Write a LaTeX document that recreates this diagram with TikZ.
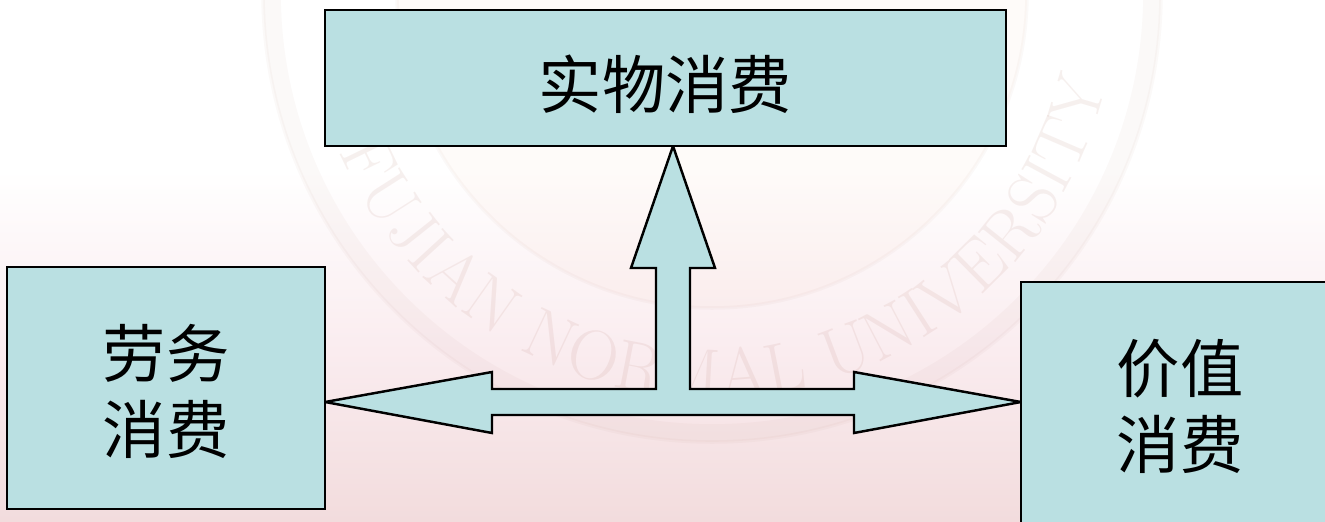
\documentclass[tikz,border=0pt]{standalone}
\usepackage{fontspec}
\usetikzlibrary{decorations.text}
\newfontfamily\cjk{Noto Sans CJK SC}
\definecolor{boxfill}{RGB}{186,224,226}
\definecolor{pagepink}{RGB}{242,220,221}
\definecolor{midpink}{RGB}{250,236,239}
\definecolor{sealred}{RGB}{150,70,50}
\newcommand{\nudge}[2]{\raisebox{-#1}[\height][\depth]{#2}}
\tikzset{
  kindbox/.style={draw=black, fill=boxfill, line width=0.7pt, inner sep=0pt, outer sep=0pt, align=center, font=\cjk\fontsize{18}{21.6}\selectfont},
  sealline/.style={draw=sealred, opacity=0.03},
}
\begin{document}
\begin{tikzpicture}[x=0.01cm, y=0.01cm]
    \useasboundingbox (0,0) rectangle (1325,521);
    % page background
    \fill[white] (0,0) rectangle (1325,521);
    \shade[top color=white, bottom color=midpink] (0,170) rectangle (1325,351);
    \shade[top color=midpink, bottom color=pagepink] (0,0) rectangle (1325,170);
    % seal behind the boxes
    \begin{scope}
      \clip (0,0) rectangle (1325,521);
      \coordinate (seal) at (712,528);
      \fill[sealred!40!orange, opacity=0.025] (seal) circle (315);
      \draw[sealline, line width=1pt] (seal) circle (315);
      \draw[sealline, line width=5pt] (seal) circle (440);
      \draw[sealline, line width=1pt] (seal) circle (449);
      \begin{scope}[fill opacity=0.08]
        \path[decorate, decoration={text along path, text align={fit to path},
          text={|\fontsize{20}{20}\selectfont\color{sealred}|FUJIAN NORMAL UNIVERSITY}}]
          (seal) ++(203:405) arc (203:347:405);
      \end{scope}
    \end{scope}
    % boxes
    \node[kindbox, minimum width=6.81cm, minimum height=1.36cm] (shiwu) at (665.5,443) {\nudge{1.9pt}{实物消费}};
    \node[kindbox, minimum width=3.18cm, minimum height=2.42cm] (laowu) at (166,133) {\nudge{0.9pt}{劳务}\\\nudge{0.9pt}{消费}};
    \node[kindbox, minimum width=3.18cm, minimum height=2.42cm] (jiazhi) at (1180,118) {\nudge{0.9pt}{价值}\\\nudge{0.9pt}{消费}};
    % arrow tips sit on the box sides
    \coordinate (tipL) at (laowu.east |- 0,119);
    \coordinate (tipR) at (jiazhi.west |- 0,119);
    \coordinate (tipU) at (673,0 |- shiwu.south);
    \draw[fill=boxfill, line width=0.7pt, miter limit=3] (tipL) -- (492,149) -- (492,132) -- (656,132) -- (656,253) -- (631,253) -- (tipU) -- (715,253) -- (690,253) -- (690,132) -- (854,132) -- (854,149) -- (tipR) -- (854,88) -- (854,106) -- (492,106) -- (492,88) -- cycle;
\end{tikzpicture}
\end{document}
